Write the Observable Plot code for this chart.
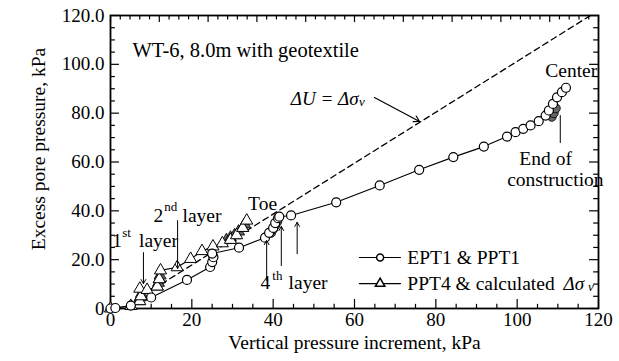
<!DOCTYPE html>
<html><head><meta charset="utf-8">
<script src="https://cdn.jsdelivr.net/npm/d3@7"></script>
<script src="https://cdn.jsdelivr.net/npm/@observablehq/plot@0.6"></script>
<style>body{margin:0;background:#fff} svg{display:block}</style>
</head><body><div id="chart"></div>
<script>
// EPT1 & PPT1 (circles): [vertical pressure increment kPa, excess pore pressure kPa]
const eptX = [0,1.2,5,10,18.8,24.5,25,25.3,25,31.6,38,39,40,40.5,41.2,41.5,44.4,55.5,66.2,75.9,84.3,91.8,97.5,99.6,101.5,103.3,105.3,107,107.8,108.8,109.8,111,112];
const eptY = [0,0.2,1.2,4.5,11.7,17,19,21,22.5,24.9,29,31,33,35,37,37.6,38.1,43.5,50.4,56.8,62,66.3,70.4,72.2,73.6,75,76.7,79,81.1,83.8,86.5,88.6,90.4];
// PPT4 & calculated delta sigma_v (triangles)
const pptX = [0,5,7.2,7.5,7.2,9,11.5,12,12.3,16.4,19.7,22.5,25.2,27.5,29.5,31,32.5,33.5];
const pptY = [0,1,3,5,8.1,7.6,9,12,15.6,16.9,20.3,23.5,25.4,26.7,28.1,30,33,36];
// shaded (overlapping) readings
const shadeTriX = [7,7.3,7.6,11.5,11.8,12,12.2,28.5,29.5,30.5,31.5,32.5,33];
const shadeTriY = [3,4.5,6,9,10.5,12,13.5,28,29,30,31.5,33,34.5];
const shadeCirX = [39.5,40,40.5,41,108.5,109,109.5];
const shadeCirY = [31,32.5,34,35.5,78.5,80,82];
// dashed line  ΔU = Δσv
const dashX = [12.5,118];
const dashY = [10,120];

const xTicks = [0,20,40,60,80,100,120];
const yTicks = [0,20,40,60,80,100,120];

const ept = eptX.map((x,i)=>({x, y:eptY[i]}));
const ppt = pptX.map((x,i)=>({x, y:pptY[i]}));
const shT = shadeTriX.map((x,i)=>({x, y:shadeTriY[i]}));
const shC = shadeCirX.map((x,i)=>({x, y:shadeCirY[i]}));
const dash = dashX.map((x,i)=>({x, y:dashY[i]}));

const bMajor = d3.range(0,121,20), bMinor = d3.range(0,121,5).filter(d=>d%20);
const tMajor = d3.range(0,121,12), tMinor = d3.range(0,120.1,2.4).filter((d,i)=>i%5);
const lMajor = d3.range(0,121,20), lMinor = d3.range(0,121,5).filter(d=>d%20);

const F = "Liberation Serif, Times New Roman, serif";
const txt = (data, o) => Plot.text(data, {x:"x", y:"y", text:"t", fontFamily:F, fill:"black", ...o});

const chart = Plot.plot({
  width:619, height:361,
  marginLeft:110, marginRight:21, marginTop:15, marginBottom:53,
  style:{fontFamily:F, fontSize:"19px", background:"white", color:"black"},
  x:{domain:[0,120]},
  y:{domain:[0,120]},
  marks:[
    Plot.axisX({ticks:xTicks, tickSize:0, tickPadding:4, label:null, fontSize:19, tickFormat:d=>String(d)}),
    Plot.axisY({ticks:yTicks, tickSize:0, tickPadding:6, label:null, fontSize:19, tickFormat:d=> d===0 ? "0" : d.toFixed(1)}),
    // inward ticks
    Plot.ruleX(bMajor, {x:d=>d, y1:0, y2:3.7, stroke:"black", strokeWidth:1.2}),
    Plot.ruleX(bMinor, {x:d=>d, y1:0, y2:1.7, stroke:"black", strokeWidth:1.2}),
    Plot.ruleX(tMajor, {x:d=>d, y1:120, y2:117.1, stroke:"black", strokeWidth:1.2}),
    Plot.ruleX(tMinor, {x:d=>d, y1:120, y2:118.2, stroke:"black", strokeWidth:1.2}),
    Plot.ruleY(lMajor, {y:d=>d, x1:0, x2:2.2, stroke:"black", strokeWidth:1.2}),
    Plot.ruleY(lMinor, {y:d=>d, x1:0, x2:1.2, stroke:"black", strokeWidth:1.2}),
    Plot.ruleY(lMajor, {y:d=>d, x1:120, x2:117.8, stroke:"black", strokeWidth:1.2}),
    Plot.ruleY(lMinor, {y:d=>d, x1:120, x2:118.8, stroke:"black", strokeWidth:1.2}),
    Plot.frame({stroke:"black", strokeWidth:1.8}),
    // dashed line
    Plot.line(dash, {x:"x", y:"y", stroke:"black", strokeWidth:1.3, strokeDasharray:"6,4"}),
    // series
    Plot.line(ppt, {x:"x", y:"y", stroke:"black", strokeWidth:1.1}),
    Plot.line(ept, {x:"x", y:"y", stroke:"black", strokeWidth:1.1}),
    Plot.dot(shT, {x:"x", y:"y", symbol:"triangle", r:4.5, fill:"#666", stroke:"black", strokeWidth:0.8}),
    Plot.dot(ppt, {x:"x", y:"y", symbol:"triangle", r:4.5, fill:"white", stroke:"black", strokeWidth:1}),
    Plot.dot(shC, {x:"x", y:"y", r:4.5, fill:"#666", stroke:"black", strokeWidth:0.8}),
    Plot.dot(ept, {x:"x", y:"y", r:4.5, fill:"white", stroke:"black", strokeWidth:1.2}),
    // annotations
    txt([{x:5.4, y:105.7, t:"WT-6, 8.0m with geotextile"}], {textAnchor:"start", fontSize:20.5}),
    txt([{x:61.0, y:86.0, t:"ΔU = Δσ"}], {textAnchor:"end", fontSize:19, fontStyle:"italic"}),
    txt([{x:61.1, y:84.6, t:"v"}], {textAnchor:"start", fontSize:13, fontStyle:"italic"}),
    Plot.arrow([{x1:64.9, y1:86.4, x2:76.0, y2:76.6}], {x1:"x1", y1:"y1", x2:"x2", y2:"y2", stroke:"black", strokeWidth:1.2, headLength:8}),
    txt([{x:119.7, y:97.5, t:"Center"}], {textAnchor:"end", fontSize:19.5}),
    txt([{x:107, y:61.4, t:"End of"}], {fontSize:19.5}),
    txt([{x:109.4, y:52.8, t:"construction"}], {fontSize:19.5}),
    Plot.ruleX([{x:110.6, y1:67.6, y2:79}], {x:"x", y1:"y1", y2:"y2", stroke:"black", strokeWidth:1}),
    txt([{x:37.4, y:43, t:"Toe"}], {fontSize:19.5}),
    txt([{x:0.4, y:27.8, t:"1"}, {x:7.0, y:27.8, t:"layer"}, {x:10.6, y:38.1, t:"2"}, {x:17.7, y:38.1, t:"layer"}, {x:36.9, y:10.6, t:"4"}, {x:43.8, y:10.6, t:"layer"}], {textAnchor:"start", fontSize:19.5}),
    txt([{x:2.9, y:31.0, t:"st"}, {x:13.2, y:41.5, t:"nd"}, {x:39.8, y:13.5, t:"th"}], {textAnchor:"start", fontSize:13}),
    Plot.arrow([
      {x1:8.1, y1:22.9, x2:8.1, y2:10.2},
      {x1:16.5, y1:36, x2:16.5, y2:16.4},
      {x1:38.4, y1:11.5, x2:38.4, y2:27.8},
      {x1:42.0, y1:17.6, x2:42.0, y2:33.6},
      {x1:45.9, y1:22.4, x2:45.9, y2:35.3}
    ], {x1:"x1", y1:"y1", x2:"x2", y2:"y2", stroke:"black", strokeWidth:1, headLength:7}),
    // legend
    Plot.line([{x:61.2, y:20.9},{x:71.3, y:20.9}], {x:"x", y:"y", stroke:"black", strokeWidth:1.1}),
    Plot.dot([{x:66.3, y:20.9}], {x:"x", y:"y", r:3.5, fill:"white", stroke:"black"}),
    Plot.line([{x:61.2, y:10.2},{x:71.3, y:10.2}], {x:"x", y:"y", stroke:"black", strokeWidth:1.1}),
    Plot.dot([{x:66.3, y:10.2}], {x:"x", y:"y", r:3.5, symbol:"triangle", fill:"white", stroke:"black"}),
    txt([{x:73, y:20.9, t:"EPT1 & PPT1"}, {x:73, y:10.2, t:"PPT4 & calculated"}], {textAnchor:"start", fontSize:19.5}),
    txt([{x:111.4, y:10.2, t:"Δσ"}], {textAnchor:"start", fontSize:19, fontStyle:"italic"}),
    txt([{x:117.4, y:8.9, t:"v"}], {textAnchor:"start", fontSize:13, fontStyle:"italic"}),
    // axis titles
    Plot.text(["Vertical pressure increment, kPa"], {frameAnchor:"bottom", dy:40, fontSize:19.5, fontFamily:F, fill:"black"}),
    Plot.text(["Excess pore pressure, kPa"], {frameAnchor:"left", textAnchor:"middle", dx:-72, dy:-13, rotate:-90, fontSize:19.5, fontFamily:F, fill:"black"})
  ]
});
document.getElementById("chart").append(chart);
</script>
</body></html>
